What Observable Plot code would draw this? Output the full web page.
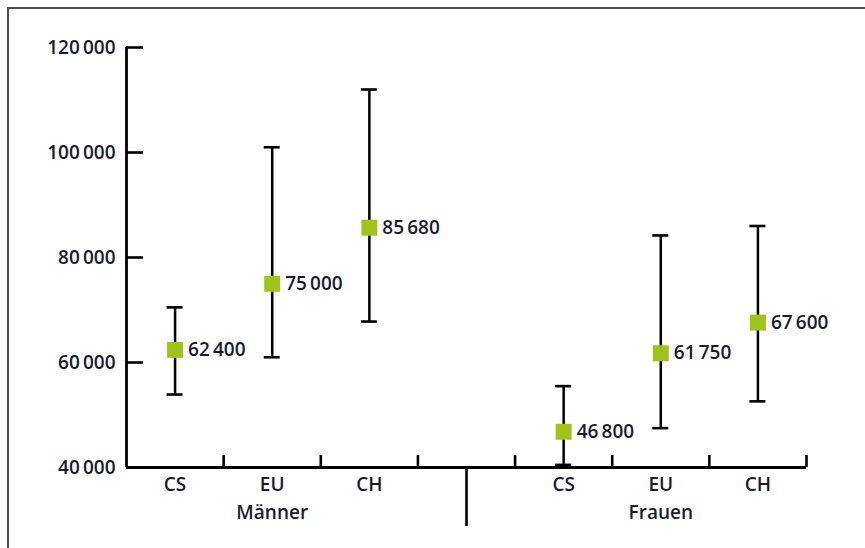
<!DOCTYPE html>
<html><head><meta charset="utf-8">
<script src="https://cdn.jsdelivr.net/npm/d3@7"></script>
<script src="https://cdn.jsdelivr.net/npm/@observablehq/plot@0.6"></script>
<style>
body{margin:0;background:#fff;}
#wrap{position:relative;width:865px;height:548px;overflow:hidden;}
#frame{position:absolute;left:7px;top:7px;width:900px;height:600px;border-left:2px solid #4d4d4d;border-top:2px solid #4d4d4d;pointer-events:none;}
svg{display:block;}
</style></head><body><div id="wrap"><div id="chart"></div><div id="frame"></div></div>
<script>
const groups = ["Männer", "Frauen"];
const categories = ["CS", "EU", "CH"];
const meanValues = [62400, 75000, 85680, 46800, 61750, 67600];
const lowValues  = [53900, 61000, 67800, 40500, 47500, 52600];
const highValues = [70500, 101000, 112000, 55500, 84200, 86000];
const yTicks = [40000, 60000, 80000, 100000, 120000];

// slot layout: 3 categories, an empty gap slot, 3 categories
const slotsPerGroup = categories.length + 1;
const rows = meanValues.map((m, i) => {
  const g = Math.floor(i / categories.length);
  const c = i % categories.length;
  return {group: groups[g], cat: categories[c], mean: m, low: lowValues[i], high: highValues[i],
          pos: g * slotsPerGroup + c + 0.5};
});
const nSlots = groups.length * slotsPerGroup - 1;
const boundaries = d3.range(1, nSlots + 1);
const separators = d3.range(1, groups.length).map(g => g * slotsPerGroup - 0.5);
const groupRows = groups.map(g => ({group: g, pos: d3.mean(rows.filter(r => r.group === g), r => r.pos)}));

const fmt = d => d3.format(",")(d).replace(/,/g, "\u2009");
const ink = "#1b1b30";
const font = "'Open Sans', sans-serif";
const fs = 19;

const chart = Plot.plot({
  width: 865,
  height: 548,
  marginLeft: 126,
  marginRight: 59,
  marginTop: 47,
  marginBottom: 81,
  style: {fontFamily: font, fontSize: fs + "px", color: ink, background: "transparent"},
  x: {type: "linear", domain: [0, nSlots], axis: null},
  y: {domain: [40000, 120000], axis: null},
  marks: [
    // axes
    Plot.ruleX([0], {stroke: "#000", strokeWidth: 2.8}),
    Plot.ruleY([40000], {stroke: "#000", strokeWidth: 2.8}),
    Plot.ruleY(yTicks, {y: d => d, x1: 0, x2: 0, insetRight: -17, stroke: "#000", strokeWidth: 2.6}),
    Plot.text(yTicks, {x: 0, y: d => d, text: fmt, textAnchor: "end", dx: -11, fill: ink, fontSize: fs, fontWeight: 600}),
    Plot.ruleX(boundaries, {x: d => d, y1: 40000, y2: 40000, insetTop: -12, stroke: "#000", strokeWidth: 2.6}),
    Plot.ruleX(separators, {x: d => d, y1: 40000, y2: 40000, insetBottom: -59, stroke: "#000", strokeWidth: 2.6}),
    Plot.text(rows, {x: "pos", text: "cat", frameAnchor: "bottom", dy: 23, fill: ink, fontSize: fs, fontWeight: 600}),
    Plot.text(groupRows, {x: "pos", text: "group", frameAnchor: "bottom", dy: 51, fill: ink, fontSize: fs, fontWeight: 600}),
    // error bars
    Plot.ruleX(rows, {x: "pos", y1: "low", y2: "high", stroke: "#000", strokeWidth: 2.5}),
    Plot.ruleY(rows, {x1: "pos", x2: "pos", y: "low", insetLeft: -8, insetRight: -8, stroke: "#000", strokeWidth: 2.6}),
    Plot.ruleY(rows, {x1: "pos", x2: "pos", y: "high", insetLeft: -8, insetRight: -8, stroke: "#000", strokeWidth: 2.6}),
    // means
    Plot.dot(rows, {x: "pos", y: "mean", symbol: "square", r: 9, fill: "#9fc31a", stroke: "none"}),
    Plot.text(rows, {x: "pos", y: "mean", text: d => fmt(d.mean), textAnchor: "start", dx: 13, fill: ink, fontSize: fs, fontWeight: 600})
  ]
});
document.getElementById("chart").append(chart);
</script>
</body></html>
